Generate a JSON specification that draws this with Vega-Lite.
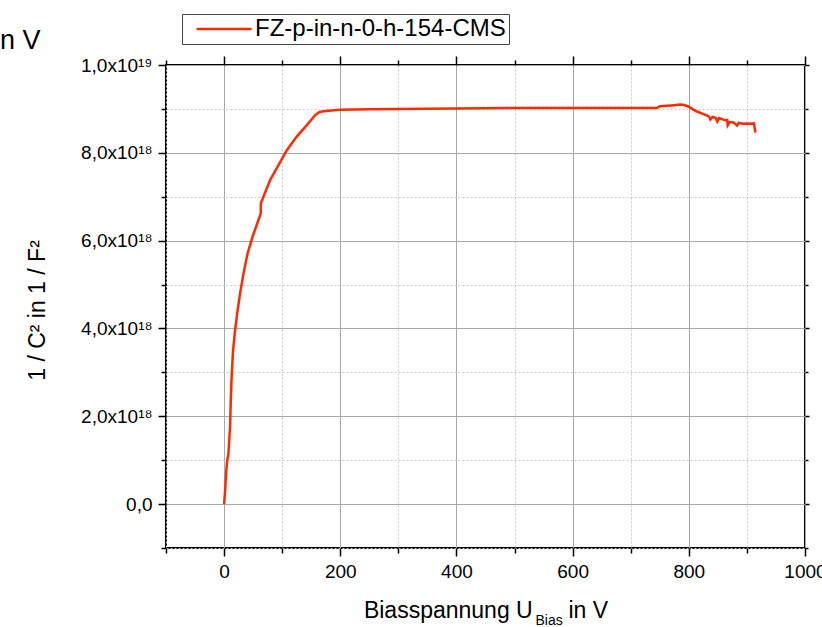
{
  "$schema": "https://vega.github.io/schema/vega-lite/v6.json",
  "width": 639,
  "height": 483,
  "autosize": {"type": "none"},
  "padding": {"left": 166, "top": 65, "right": 17, "bottom": 79},
  "background": "white",
  "config": {
    "view": {"stroke": "black", "strokeWidth": 2},
    "font": "Liberation Sans",
    "axis": {"labelFont": "Liberation Sans", "titleFont": "Liberation Sans", "labelColor": "black", "titleColor": "black", "tickColor": "black", "domain": false, "titleFontWeight": "normal", "tickWidth": 1.5}
  },
  "title": {"text": "n V", "anchor": "start", "frame": "group", "fontSize": 27, "fontWeight": "normal", "font": "Liberation Sans", "color": "black", "dx": -166, "dy": 62, "offset": 0, "baseline": "alphabetic"},
  "datasets": {
    "curve": [
      {"V": 0, "C": 0},
      {"V": 2, "C": 0.35e18},
      {"V": 3.4, "C": 0.7e18},
      {"V": 5.5, "C": 1.0e18},
      {"V": 7.5, "C": 1.15e18},
      {"V": 9, "C": 1.5e18},
      {"V": 10.3, "C": 1.76e18},
      {"V": 11.5, "C": 2.37e18},
      {"V": 12.5, "C": 2.75e18},
      {"V": 13.8, "C": 3.13e18},
      {"V": 15.5, "C": 3.5e18},
      {"V": 18.3, "C": 3.89e18},
      {"V": 22.5, "C": 4.34e18},
      {"V": 27.5, "C": 4.8e18},
      {"V": 33.5, "C": 5.26e18},
      {"V": 40.5, "C": 5.71e18},
      {"V": 49, "C": 6.09e18},
      {"V": 57, "C": 6.39e18},
      {"V": 63.1, "C": 6.62e18},
      {"V": 63.3, "C": 6.85e18},
      {"V": 67.7, "C": 7.0e18},
      {"V": 79.2, "C": 7.38e18},
      {"V": 93.6, "C": 7.72e18},
      {"V": 108, "C": 8.06e18},
      {"V": 125, "C": 8.37e18},
      {"V": 142.4, "C": 8.63e18},
      {"V": 156.8, "C": 8.86e18},
      {"V": 163, "C": 8.92e18},
      {"V": 168.3, "C": 8.94e18},
      {"V": 180, "C": 8.96e18},
      {"V": 200, "C": 8.98e18},
      {"V": 250, "C": 8.99e18},
      {"V": 300, "C": 9.0e18},
      {"V": 400, "C": 9.01e18},
      {"V": 500, "C": 9.02e18},
      {"V": 600, "C": 9.02e18},
      {"V": 700, "C": 9.02e18},
      {"V": 745, "C": 9.02e18},
      {"V": 750, "C": 9.06e18},
      {"V": 770, "C": 9.08e18},
      {"V": 785.5, "C": 9.1e18},
      {"V": 792, "C": 9.09e18},
      {"V": 800, "C": 9.05e18},
      {"V": 807, "C": 8.99e18},
      {"V": 814, "C": 8.94e18},
      {"V": 822, "C": 8.9e18},
      {"V": 831.5, "C": 8.85e18},
      {"V": 835, "C": 8.82e18},
      {"V": 837, "C": 8.76e18},
      {"V": 841, "C": 8.82e18},
      {"V": 846, "C": 8.8e18},
      {"V": 849, "C": 8.71e18},
      {"V": 852, "C": 8.79e18},
      {"V": 858, "C": 8.76e18},
      {"V": 862, "C": 8.74e18},
      {"V": 866, "C": 8.75e18},
      {"V": 867, "C": 8.63e18},
      {"V": 870, "C": 8.7e18},
      {"V": 877, "C": 8.69e18},
      {"V": 880, "C": 8.66e18},
      {"V": 883, "C": 8.62e18},
      {"V": 886, "C": 8.68e18},
      {"V": 893, "C": 8.66e18},
      {"V": 900, "C": 8.67e18},
      {"V": 907, "C": 8.66e18},
      {"V": 912, "C": 8.67e18},
      {"V": 914.7, "C": 8.46e18}
    ]
  },
  "data": {"name": "curve"},
  "layer": [
    {
      "mark": {"type": "line", "strokeOpacity": 0},
      "encoding": {
        "x": {"field": "V", "type": "quantitative", "scale": {"domain": [-100, 1000], "nice": false, "zero": false},
          "axis": {"orient": "bottom", "values": [-100, 100, 300, 500, 700, 900], "grid": true, "gridDash": [2, 2], "gridColor": "#c8c8c8", "gridWidth": 1, "tickSize": 5, "labels": false, "title": "Bias", "titleFontSize": 14, "titleX": 369, "titleY": 76, "titleAlign": "left", "titleBaseline": "alphabetic"}},
        "y": {"field": "C", "type": "quantitative", "scale": {"domain": [-1e18, 1e19], "nice": false, "zero": false},
          "axis": {"orient": "left", "values": [-1e18, 1e18, 3e18, 5e18, 7e18, 9e18], "grid": true, "gridDash": [2, 2], "gridColor": "#c8c8c8", "gridWidth": 1, "tickSize": 5, "labels": false, "title": null}}
      }
    },
    {
      "mark": {"type": "line", "strokeOpacity": 0},
      "encoding": {
        "x": {"field": "V", "type": "quantitative", "scale": {"domain": [-100, 1000], "nice": false, "zero": false},
          "axis": {"orient": "top", "values": [0, 200, 400, 600, 800, 1000], "grid": false, "tickSize": 9, "labels": false, "title": null}},
        "y": {"field": "C", "type": "quantitative", "scale": {"domain": [-1e18, 1e19], "nice": false, "zero": false},
          "axis": {"orient": "right", "values": [0, 2e18, 4e18, 6e18, 8e18, 1e19], "grid": false, "tickSize": 4, "labels": false, "title": null}}
      }
    },
    {
      "mark": {"type": "line", "strokeOpacity": 0},
      "encoding": {
        "x": {"field": "V", "type": "quantitative", "scale": {"domain": [-100, 1000], "nice": false, "zero": false},
          "axis": {"orient": "top", "values": [-100, 100, 300, 500, 700, 900], "grid": false, "tickSize": 5, "labels": false, "title": null}},
        "y": {"field": "C", "type": "quantitative", "scale": {"domain": [-1e18, 1e19], "nice": false, "zero": false},
          "axis": {"orient": "right", "values": [-1e18, 1e18, 3e18, 5e18, 7e18, 9e18], "grid": false, "tickSize": 3, "labels": false, "title": null}}
      }
    },
    {
      "mark": {"type": "line", "strokeWidth": 2.5},
      "encoding": {
        "x": {"field": "V", "type": "quantitative", "scale": {"domain": [-100, 1000], "nice": false, "zero": false},
          "axis": {"orient": "bottom", "values": [0, 200, 400, 600, 800, 1000], "format": "d", "labelFlush": false, "labelOverlap": false, "grid": true, "gridColor": "#a8a8a8", "gridWidth": 1, "tickSize": 8, "labelFontSize": 19, "labelPadding": 6, "title": "Biasspannung U \u2003 in V", "titleFontSize": 23, "titleY": 69, "titleBaseline": "alphabetic"}},
        "y": {"field": "C", "type": "quantitative", "scale": {"domain": [-1e18, 1e19], "nice": false, "zero": false},
          "axis": {"orient": "left", "values": [0, 2e18, 4e18, 6e18, 8e18, 1e19], "labelFlush": false, "grid": true, "gridColor": "#a8a8a8", "gridWidth": 1, "tickSize": 8, "labelFontSize": 19, "labelPadding": 6,
            "labelExpr": "datum.value == 0 ? '0,0' : (datum.value >= 9.9e18 ? '1,0x10¹⁹' : replace(format(datum.value / 1e18, '.1f'), '.', ',') + 'x10¹⁸')",
            "title": "1 / C² in 1 / F²", "titleFontSize": 23, "titleX": -122, "titleY": 245, "titleAngle": -90, "titleBaseline": "alphabetic", "titleAlign": "center"}},
        "color": {"datum": "FZ-p-in-n-0-h-154-CMS", "type": "nominal", "scale": {"range": ["#ff2a00"]},
          "legend": {"orient": "none", "legendX": 16, "legendY": -51, "title": null, "strokeColor": "#444444", "fillColor": "white", "padding": 3, "labelFontSize": 24, "labelLimit": 400, "labelFont": "Liberation Sans", "labelColor": "black", "symbolType": "M-5,0H5", "symbolSize": 121, "symbolStrokeWidth": 2.5, "symbolOffset": 27, "labelOffset": 19, "cornerRadius": 0}}
      }
    }
  ],
  "resolve": {"axis": {"x": "independent", "y": "independent"}}
}
